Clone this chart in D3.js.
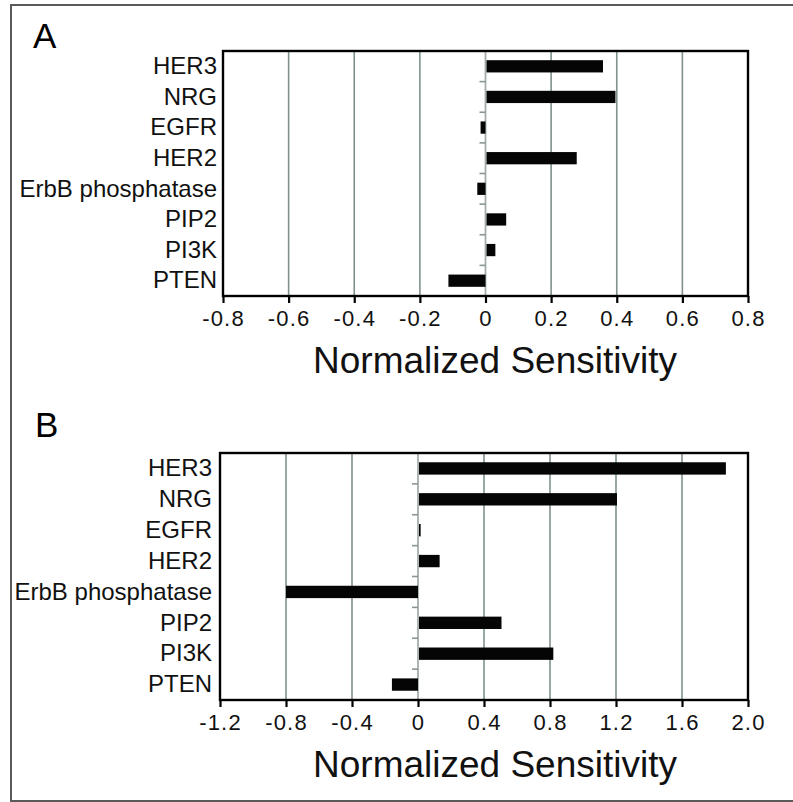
<!DOCTYPE html>
<html>
<head>
<meta charset="utf-8">
<script src="https://d3js.org/d3.v7.min.js"></script>
<style>
  body { margin: 0; background: #fff; }
  svg { display: block; font-family: "Liberation Sans", Arial, sans-serif; }
</style>
</head>
<body>
<svg id="vis" width="793" height="802"></svg>
<script>
// categories, top to bottom
var categories = ["HER3", "NRG", "EGFR", "HER2", "ErbB phosphatase", "PIP2", "PI3K", "PTEN"];

// panel A values (normalized sensitivity)
var valuesA = [0.355, 0.393, -0.015, 0.275, -0.025, 0.06, 0.027, -0.113];
var ticksA = [-0.8, -0.6, -0.4, -0.2, 0, 0.2, 0.4, 0.6, 0.8];
var tickLabelsA = ["-0.8", "-0.6", "-0.4", "-0.2", "0", "0.2", "0.4", "0.6", "0.8"];

// panel B values
var valuesB = [1.86, 1.2, 0.01, 0.125, -0.8, 0.5, 0.814, -0.158];
var ticksB = [-1.2, -0.8, -0.4, 0, 0.4, 0.8, 1.2, 1.6, 2.0];
var tickLabelsB = ["-1.2", "-0.8", "-0.4", "0", "0.4", "0.8", "1.2", "1.6", "2.0"];

var axisTitle = "Normalized Sensitivity";

var svg = d3.select("#vis");
var gridColor = "#7f918e";

// outer frame
svg.append("rect")
  .attr("x", 11).attr("y", 5)
  .attr("width", 800).attr("height", 796)
  .attr("fill", "none")
  .attr("stroke", "#5a5a5a")
  .attr("stroke-width", 2);

function panel(opts) {
  var g = svg.append("g");
  var x = d3.scaleLinear().domain(opts.domain).range([opts.left, opts.right]);
  var y = d3.scaleBand().domain(categories).range([opts.top, opts.bottom]).padding(0);

  // panel letter
  g.append("text")
    .attr("x", opts.letterX).attr("y", opts.letterY)
    .attr("font-size", 35)
    .text(opts.letter);

  // vertical grid lines
  g.selectAll(".grid")
    .data(opts.ticks.filter(function(d) { return d !== 0; }))
    .enter().append("line")
    .attr("x1", function(d) { return x(d); })
    .attr("x2", function(d) { return x(d); })
    .attr("y1", opts.top).attr("y2", opts.bottom)
    .attr("stroke", gridColor)
    .attr("stroke-width", 1.6);

  // zero line with category ticks
  g.append("line")
    .attr("x1", x(0)).attr("x2", x(0))
    .attr("y1", opts.top).attr("y2", opts.bottom)
    .attr("stroke", "#a3aeac")
    .attr("stroke-width", 1.8);
  g.selectAll(".ctick")
    .data(categories.slice(1))
    .enter().append("line")
    .attr("x1", x(0) - 6).attr("x2", x(0))
    .attr("y1", function(d) { return y(d); })
    .attr("y2", function(d) { return y(d); })
    .attr("stroke", "#8a9694")
    .attr("stroke-width", 1.6);

  // bars
  var bh = y.bandwidth() * 0.4;
  g.selectAll(".bar")
    .data(opts.values)
    .enter().append("rect")
    .attr("x", function(d) { return d < 0 ? x(d) : x(0) + 1; })
    .attr("width", function(d) { return Math.abs(x(d) - x(0)); })
    .attr("y", function(d, i) { return y(categories[i]) + (y.bandwidth() - bh) / 2; })
    .attr("height", bh)
    .attr("fill", "#050505");

  // frame
  g.append("rect")
    .attr("x", opts.left).attr("y", opts.top)
    .attr("width", opts.right - opts.left)
    .attr("height", opts.bottom - opts.top)
    .attr("fill", "none")
    .attr("stroke", "#000")
    .attr("stroke-width", 2.4);

  // bottom axis
  var ax = g.append("g")
    .attr("transform", "translate(0," + opts.bottom + ")")
    .call(d3.axisBottom(x)
      .tickValues(opts.ticks)
      .tickFormat(function(d, i) { return opts.tickLabels[i]; })
      .tickSize(7)
      .tickPadding(7));
  ax.select(".domain").remove();
  ax.selectAll(".tick line").attr("stroke", "#000").attr("stroke-width", 2.2);
  ax.selectAll(".tick text")
    .attr("font-size", 22)
    .attr("letter-spacing", "1.2px")
    .attr("fill", "#111")
    .attr("font-family", "Liberation Sans, Arial, sans-serif");

  // category labels
  var ay = g.append("g")
    .attr("transform", "translate(" + opts.left + ",0)")
    .call(d3.axisLeft(y).tickSize(0).tickPadding(opts.labelPad));
  ay.select(".domain").remove();
  ay.selectAll(".tick text")
    .attr("font-size", 24)
    .attr("fill", "#111")
    .attr("font-family", "Liberation Sans, Arial, sans-serif");

  // axis title
  g.append("text")
    .attr("x", 495).attr("y", opts.bottom + 77)
    .attr("text-anchor", "middle")
    .attr("font-size", 37)
    .attr("fill", "#111")
    .text(axisTitle);
}

panel({
  letter: "A", letterX: 33, letterY: 48,
  domain: [-0.8, 0.8], left: 223, right: 748, top: 51, bottom: 296,
  values: valuesA, ticks: ticksA, tickLabels: tickLabelsA, labelPad: 6
});

panel({
  letter: "B", letterX: 35, letterY: 437,
  domain: [-1.2, 2.0], left: 220, right: 748, top: 453, bottom: 700,
  values: valuesB, ticks: ticksB, tickLabels: tickLabelsB, labelPad: 8
});
</script>
</body>
</html>
